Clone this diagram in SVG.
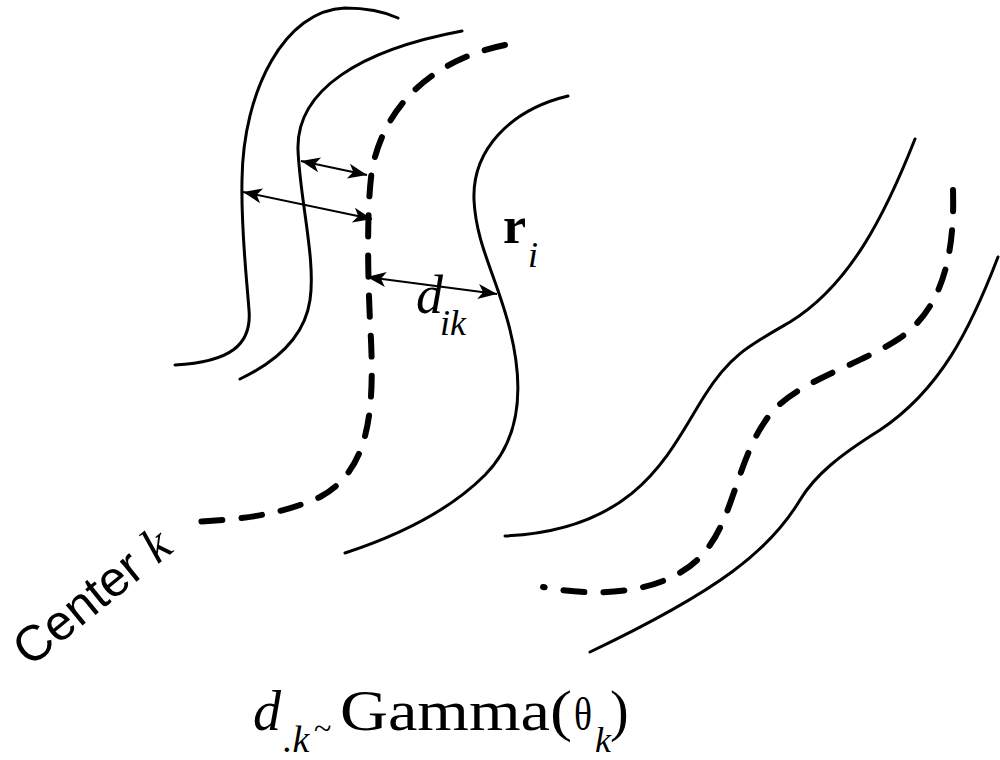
<svg xmlns="http://www.w3.org/2000/svg" width="1000" height="760" viewBox="0 0 1000 760">
<defs>
<style>
.solid{fill:none;stroke:#000;stroke-width:3;stroke-linecap:round}
.dash{fill:none;stroke:#000;stroke-width:6;stroke-linecap:round;stroke-dasharray:21 19}
.arr{fill:none;stroke:#000;stroke-width:2}
.serif{font-family:"Liberation Serif","DejaVu Serif",serif;fill:#000}
.sans{font-family:"Liberation Sans","DejaVu Sans",sans-serif;fill:#000}
</style>
<marker id="ah" viewBox="-20 -10 22 20" refX="0" refY="0" markerWidth="22" markerHeight="20" markerUnits="userSpaceOnUse" orient="auto-start-reverse">
<path d="M0,0 L-19,-7.5 L-14,0 L-19,7.5 z" fill="#000"/>
</marker>
</defs>
<rect width="1000" height="760" fill="#fff"/>
<g id="curves-left">
<path id="curveA" class="solid" d="M175,365 C230,362 252,345 249,310 C246,270 241,230 242,180 C243,90 285,10 345,8 C365,8 385,12 398,18"/>
<path id="curveB" class="solid" d="M240,379 C280,360 305,335 310,300 C316,260 300,200 298,150 C296,90 360,50 462,31"/>
<path id="centerk" class="dash" d="M505,45 C440,58 385,100 372,170 C366,210 368,290 371,340 C374,410 370,470 320,497 C280,515 240,520 188,522"/>
<path id="curveC" class="solid" d="M568,96 C510,110 472,150 474,200 C476,245 498,280 510,330 C525,390 520,440 485,475 C450,510 400,535 345,553"/>
</g>
<g id="curves-right">
<path id="curveD" class="solid" d="M915,139 C885,215 850,285 790,322 C750,345 730,355 705,395 C670,450 640,530 505,536"/>
<path id="centerR" class="dash" d="M953,190 C955,260 940,310 900,338 C860,365 800,380 772,412 C740,450 735,510 710,545 C680,590 610,600 543,587"/>
<path id="curveF" class="solid" d="M998,257 C970,330 940,390 880,430 C840,455 815,475 800,500 C770,550 720,590 590,652"/>
</g>
<g id="connectors">
<line class="arr" x1="301" y1="161" x2="367" y2="175" marker-start="url(#ah)" marker-end="url(#ah)"/>
<line class="arr" x1="243" y1="192" x2="372" y2="219" marker-start="url(#ah)" marker-end="url(#ah)"/>
<line class="arr" x1="367" y1="277" x2="497" y2="294" marker-start="url(#ah)" marker-end="url(#ah)"/>
</g>
<g id="label-ri">
<text class="serif" x="503" y="243" font-size="52" font-weight="bold">r</text>
<text class="serif" x="528" y="267" font-size="36" font-style="italic">i</text>
</g>
<g id="label-dik">
<text class="serif" x="416" y="313" font-size="54" font-style="italic">d</text>
<text class="serif" x="440" y="335" font-size="36" font-style="italic">ik</text>
</g>
<g id="label-center">
<text class="sans" font-size="50" transform="translate(30,668) rotate(-39)">Center <tspan class="serif" font-style="italic">k</tspan></text>
</g>
<g id="formula">
<text class="serif" x="253" y="730" font-size="56" font-style="italic">d</text>
<text class="serif" x="283" y="752" font-size="38" font-style="italic">.k</text>
<text class="serif" x="314" y="739" font-size="32">~</text>
<text class="serif" x="340" y="730" font-size="56" textLength="232" lengthAdjust="spacingAndGlyphs">Gamma(</text>
<text class="serif" x="574" y="730" font-size="46" textLength="18" lengthAdjust="spacingAndGlyphs">θ</text>
<text class="serif" x="595" y="752" font-size="36" font-style="italic">k</text>
<text class="serif" x="610" y="730" font-size="56">)</text>
</g>
</svg>
